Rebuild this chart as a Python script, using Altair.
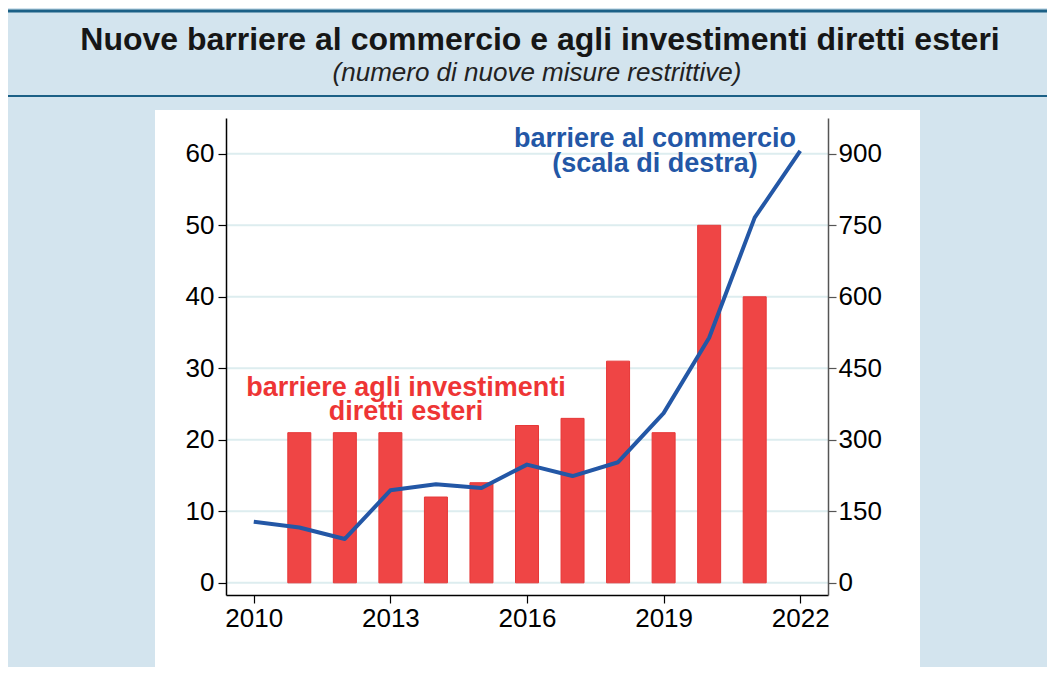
import altair as alt
import pandas as pd

# ---------------- data ----------------
years = [2010, 2011, 2012, 2013, 2014, 2015, 2016, 2017, 2018, 2019, 2020, 2021, 2022]
trade_barriers = [128, 116, 92, 194, 207, 199, 248, 224, 253, 356, 514, 766, 906]  # right scale

bar_years = [2011, 2012, 2013, 2014, 2015, 2016, 2017, 2018, 2019, 2020, 2021]
fdi_barriers = [21, 21, 21, 12, 14, 22, 23, 31, 21, 50, 40]  # left scale

x_ticks = [2010, 2013, 2016, 2019, 2022]
left_ticks = [0, 10, 20, 30, 40, 50, 60]
right_ticks = [0, 150, 300, 450, 600, 750, 900]

title_text = "Nuove barriere al commercio e agli investimenti diretti esteri"
subtitle_text = "(numero di nuove misure restrittive)"
blue_label = ["barriere al commercio", "(scala di destra)"]
red_label = ["barriere agli investimenti", "diretti esteri"]

# ---------------- styling ----------------
FONT = "Liberation Sans"
BG = "#D3E4EE"
TEAL = "#1B6086"
RED = "#EF4545"
RED_EDGE = "#E63838"
BLUE = "#2357A6"
GRID = "#DDEDEF"

W, H = 602, 477

df_line = pd.DataFrame({"year": years, "trade": trade_barriers})
df_bar = pd.DataFrame({"year": bar_years, "fdi": fdi_barriers})
df_grid = pd.DataFrame({"v": left_ticks})
one = pd.DataFrame({"k": [0]})

x_scale = alt.Scale(domain=[2009.5, 2022.5], nice=False, zero=False)
left_scale = alt.Scale(domain=[-1.7, 65], nice=False, zero=False)
right_scale = alt.Scale(domain=[-25.5, 975], nice=False, zero=False)

x_axis = alt.Axis(values=x_ticks, format="d", title=None, grid=False, zindex=1,
                  domainColor="#000", domainWidth=1.5, tickColor="#000", tickSize=8,
                  tickWidth=1.2, labelFontSize=26, labelFont=FONT, labelColor="#000",
                  labelPadding=2, labelFlush=False, labelOverlap=False)

# ---------------- decorations ----------------
panel = alt.Chart(one).mark_rect(color="white").encode(
    x=alt.value(-71), x2=alt.value(694), y=alt.value(-8), y2=alt.value(550))

top_rule = alt.Chart(one).mark_rule(color=TEAL, strokeWidth=3).encode(
    x=alt.value(-218), x2=alt.value(821), y=alt.value(-107))
mid_rule = alt.Chart(one).mark_rule(color=TEAL, strokeWidth=2).encode(
    x=alt.value(-218), x2=alt.value(821), y=alt.value(-22))

title = alt.Chart(one).mark_text(
    text=title_text, font=FONT, fontSize=32, fontWeight="bold", color="#161616",
    align="center", baseline="alphabetic").encode(x=alt.value(314), y=alt.value(-68))
subtitle = alt.Chart(one).mark_text(
    text=subtitle_text, font=FONT, fontSize=26, fontStyle="italic", color="#222",
    align="center", baseline="alphabetic").encode(x=alt.value(311), y=alt.value(-37))

blue_txt = alt.Chart(one).mark_text(
    text=blue_label, font=FONT, fontSize=27, fontWeight="bold", color=BLUE, lineHeight=25,
    align="center", baseline="alphabetic").encode(x=alt.value(429), y=alt.value(29))
red_txt = alt.Chart(one).mark_text(
    text=red_label, font=FONT, fontSize=27, fontWeight="bold", color="#EE3535", lineHeight=24,
    align="center", baseline="alphabetic").encode(x=alt.value(180), y=alt.value(278))

# ---------------- data marks ----------------
grid = alt.Chart(df_grid).mark_rule(color=GRID, strokeWidth=2).encode(
    y=alt.Y("v:Q", scale=left_scale, axis=None),
    x=alt.value(0), x2=alt.value(W))

bars = alt.Chart(df_bar).mark_bar(size=23, color=RED, stroke=RED_EDGE, strokeWidth=1).encode(
    x=alt.X("year:Q", scale=x_scale, axis=x_axis),
    y=alt.Y("fdi:Q", scale=left_scale, stack=None,
            axis=alt.Axis(values=left_ticks, title=None, orient="left", grid=False, zindex=1,
                          domainColor="#000", domainWidth=1.5,
                          tickColor="#000", tickSize=8, tickWidth=1.2, labelFontSize=26,
                          labelFont=FONT, labelColor="#000", labelPadding=4,
                          labelFlush=False, labelOverlap=False)),
    y2=alt.datum(0),
)

line = alt.Chart(df_line).mark_line(color=BLUE, strokeWidth=4, strokeJoin="round").encode(
    x=alt.X("year:Q", scale=x_scale, axis=x_axis),
    y=alt.Y("trade:Q", scale=right_scale,
            axis=alt.Axis(values=right_ticks, title=None, orient="right", grid=False, zindex=1,
                          domainColor="#555", domainWidth=1.5, tickColor="#555",
                          tickSize=8, tickWidth=1.2, labelFontSize=26, labelFont=FONT,
                          labelColor="#000", labelPadding=2, labelFlush=False,
                          labelOverlap=False)),
)

chart = alt.layer(
    panel, top_rule, mid_rule, title, subtitle, grid, bars, line, blue_txt, red_txt
).resolve_scale(y="independent").properties(
    width=W, height=H,
    padding={"left": 218, "top": 110, "right": 219, "bottom": 72},
    autosize=alt.AutoSizeParams(type="none"),
    background=BG,
).configure_view(stroke=None)

chart.save("out.html", embed_options={"renderer": "svg", "actions": False})
